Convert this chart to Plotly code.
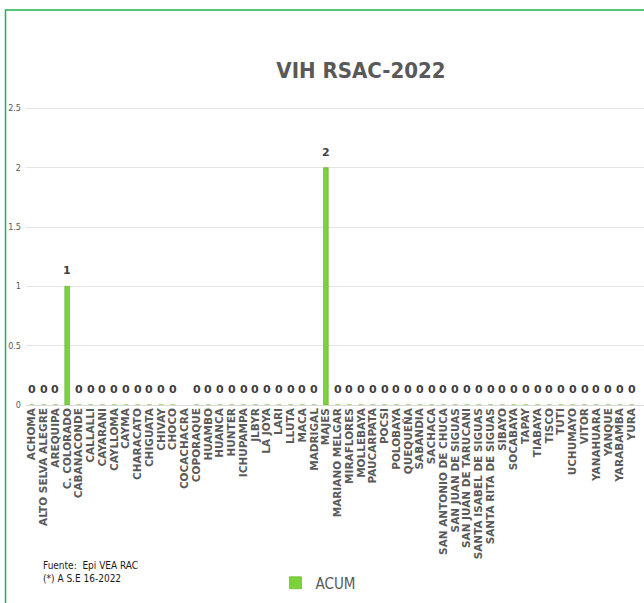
import plotly.graph_objects as go

categories = ["ACHOMA", "ALTO SELVA ALEGRE", "AREQUIPA", "C. COLORADO", "CABANACONDE", "CALLALLI",
              "CAYARANI", "CAYLLOMA", "CAYMA", "CHARACATO", "CHIGUATA", "CHIVAY", "CHOCO",
              "COCACHACRA", "COPORAQUE", "HUAMBO", "HUANCA", "HUNTER", "ICHUPAMPA", "JLBYR",
              "LA JOYA", "LARI", "LLUTA", "MACA", "MADRIGAL", "MAJES", "MARIANO MELGAR",
              "MIRAFLORES", "MOLLEBAYA", "PAUCARPATA", "POCSI", "POLOBAYA", "QUEQUEÑA",
              "SABANDIA", "SACHACA", "SAN ANTONIO DE CHUCA", "SAN JUAN DE SIGUAS",
              "SAN JUAN DE TARUCANI", "SANTA ISABEL DE SIGUAS", "SANTA RITA DE SIGUAS",
              "SIBAYO", "SOCABAYA", "TAPAY", "TIABAYA", "TISCO", "TUTI", "UCHUMAYO", "VITOR",
              "YANAHUARA", "YANQUE", "YARABAMBA", "YURA"]

acum = [0, 0, 0, 1, 0, 0, 0, 0, 0, 0, 0, 0, 0,
        None, 0, 0, 0, 0, 0, 0, 0, 0, 0, 0, 0, 2,
        0, 0, 0, 0, 0, 0, 0, 0, 0, 0, 0, 0, 0, 0,
        0, 0, 0, 0, 0, 0, 0, 0, 0, 0, 0, 0]

y_ticks = [0, 0.5, 1, 1.5, 2, 2.5]
y_ticktext = ["0", "0.5", "1", "1.5", "2", "2.5"]

W, H = 644, 603
L, R, T, B = 26, 0, 49, 198
COND = "Liberation Sans Narrow, DejaVu Sans Condensed"

fig = go.Figure()
fig.add_trace(go.Bar(
    x=categories, y=acum, name="ACUM", width=0.4,
    marker=dict(color="#7CD23A", line=dict(color="#5DAF1F", width=0.6)),
))

for c, v in zip(categories, acum):
    if v is None:
        continue
    fig.add_annotation(x=c, y=v, text=f"<b>{v}</b>", showarrow=False,
                       yanchor="bottom", yshift=7,
                       font=dict(family="DejaVu Sans", size=11, color="#404040"))

fig.add_annotation(xref="paper", yref="paper",
                   x=(41 - L) / (W - L - R), y=-(572 - 405) / (405 - T),
                   xanchor="left", yanchor="middle", align="left",
                   text="Fuente:  Epi VEA RAC<br>(*) A S.E 16-2022", showarrow=False,
                   font=dict(family=COND, size=10, color="#1a1a1a"))

# green frame
fig.add_shape(type="rect", xref="paper", yref="paper",
              x0=(5.5 - L) / (W - L - R), x1=1.2,
              y0=-1, y1=(405 - 10) / (405 - T),
              line=dict(color="#21B24F", width=1.5), layer="below")

fig.update_layout(
    width=W, height=H,
    margin=dict(l=L, r=R, t=T, b=B, autoexpand=False),
    paper_bgcolor="white", plot_bgcolor="white",
    title=dict(text="<b>VIH RSAC-2022</b>", xref="container", yref="container",
               x=361 / W, y=1 - 70 / H, xanchor="center", yanchor="middle",
               font=dict(family=COND, size=22, color="#595959")),
    showlegend=True,
    legend=dict(orientation="h", xref="container", yref="container",
                x=318 / W, y=1 - 583 / H, xanchor="center", yanchor="middle",
                font=dict(family=COND, size=15, color="#595959")),
)
fig.update_xaxes(type="category", range=[-0.5, 52.05], tickangle=-90, automargin=False,
                 tickmode="array", tickvals=categories, ticktext=categories,
                 tickfont=dict(family="DejaVu Sans", size=10.5, color="#595959", weight="bold"),
                 showgrid=False, showline=False, ticks="", ticklen=0)
fig.update_yaxes(range=[0, 3], tickvals=y_ticks, ticktext=y_ticktext, automargin=False,
                 showgrid=True, gridcolor="#E4E4E4", gridwidth=1, zeroline=True,
                 zerolinecolor="#D9D9D9", zerolinewidth=1,
                 tickfont=dict(family=COND, size=9, color="#595959"),
                 ticks="", ticklabelstandoff=4)

fig.write_html("out.html", config={"displayModeBar": False},
               post_script="document.body.style.margin='0';")
